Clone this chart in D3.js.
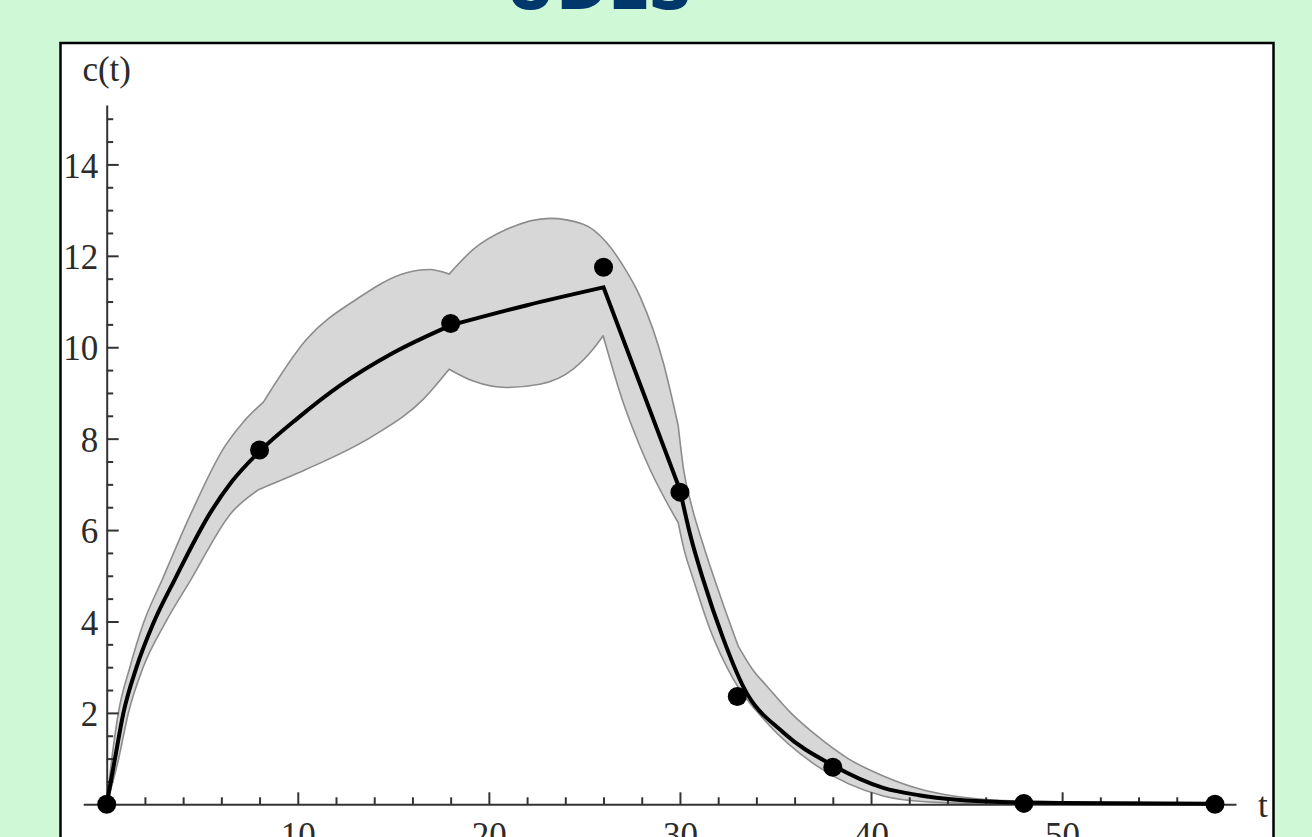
<!DOCTYPE html>
<html>
<head>
<meta charset="utf-8">
<script src="https://cdn.jsdelivr.net/npm/d3@7"></script>
<style>
  html, body { margin: 0; padding: 0; background: #cff8d7; }
  svg { display: block; }
</style>
</head>
<body>
<svg id="chart" width="1312" height="837"></svg>
<script>
// ---------- DATA ----------
const titleText = "UDLS";
const yLabel = "c(t)";
const xLabel = "t";

// observations
const obsT = [0, 8, 18, 26, 30, 33, 38, 48, 58];
const obsC = [0, 7.75, 10.52, 11.75, 6.83, 2.36, 0.81, 0.02, 0.0];

// fitted curve, piecewise (kinks at 18, 26, 30)
const fitSeg1 = [[0,0],[0.42,0.97],[0.87,1.99],[1.57,3.01],[2.44,3.96],[3.6,4.95],[5.41,6.37],[6.53,7.05],[8,7.72],[10,8.45],[12.2,9.16],[15.0,9.88],[18,10.48]];
const fitSeg2 = [[18,10.48],[22,10.92],[26,11.31]];
const fitSeg3 = [[26,11.31],[30,6.88]];
const fitSeg4 = [[30,6.88],[30.54,5.89],[31.22,4.91],[32.27,3.62],[33.32,2.57],[35.41,1.57],[37.97,0.86],[40.64,0.36],[42.5,0.2],[44.5,0.1],[46.75,0.05],[50,0.03],[58,0.01]];

// confidence band, upper edge (kinks at ~8.2, ~17.9, ~29.9, ~33)
const upSeg1 = [[0,0],[0.26,0.97],[0.61,2.0],[1.22,3.01],[1.92,3.96],[2.92,4.93],[4.43,6.38],[6.18,7.83],[7.12,8.35],[8.2,8.8]];
const upSeg2 = [[8.2,8.8],[10.45,10.17],[13.07,11.05],[15.69,11.63],[16.9,11.7],[17.92,11.6]];
const upSeg3 = [[17.92,11.6],[19.18,12.14],[20.93,12.58],[23.19,12.82],[24.94,12.69],[26.16,12.29],[27.03,11.78],[27.9,11.12],[29.13,9.66],[29.91,8.28]];
const upSeg4 = [[29.91,8.28],[30.2,7.3],[30.6,6.55],[31.2,5.7],[32.2,4.45],[33.05,3.46]];
const upSeg5 = [[33.05,3.46],[33.8,2.95],[34.54,2.59],[35.8,2.0],[37.16,1.5],[38.8,1.0],[40.64,0.62],[42.5,0.34],[44.5,0.17],[47,0.08],[50,0.04],[54,0.02],[58,0.015]];

// confidence band, lower edge (kinks at ~8, ~17.9, ~26, ~29.9)
const loSeg1 = [[0,0],[0.61,0.97],[1.13,1.99],[1.92,3.01],[3.05,3.96],[4.4,4.91],[6.53,6.38],[7.97,6.89]];
const loSeg2 = [[7.97,6.89],[10.45,7.33],[13.94,8.06],[16.56,8.86],[17.92,9.52]];
const loSeg3 = [[17.92,9.52],[19.18,9.26],[20.93,9.12],[22.67,9.19],[24.41,9.52],[25.46,9.96],[25.98,10.25]];
const loSeg4 = [[25.98,10.25],[27.03,8.79],[27.9,7.84],[28.43,7.33],[29.91,6.16]];
const loSeg5 = [[29.91,6.16],[30.2,5.6],[30.7,4.92],[31.57,3.83],[32.79,2.74],[34.54,1.79],[37.16,0.84],[40.64,0.18],[43,0.05],[47,0.01],[58,0]];

// ticks
const xMajorTicks = [10, 20, 30, 40, 50];
const xMinorTicks = [2,4,6,8,12,14,16,18,22,24,26,28,32,34,36,38,42,44,46,48,52,54,56,58];
const yMajorTicks = [2, 4, 6, 8, 10, 12, 14];
const yMinorTicks = [0.5,1,1.5,2.5,3,3.5,4.5,5,5.5,6.5,7,7.5,8.5,9,9.5,10.5,11,11.5,12.5,13,13.5,14.5,15];

// ---------- DRAW ----------
const svg = d3.select("#chart");

// panel
svg.append("rect")
  .attr("x", 60.5).attr("y", 43).attr("width", 1213).attr("height", 820)
  .attr("fill", "#ffffff").attr("stroke", "#000").attr("stroke-width", 2.5);

// title (cut off at the top)
svg.append("text")
  .attr("x", 599).attr("y", 9)
  .attr("text-anchor", "middle")
  .attr("font-family", "DejaVu Sans, sans-serif")
  .attr("font-weight", "bold")
  .attr("font-size", 66)
  .attr("textLength", 188)
  .attr("lengthAdjust", "spacingAndGlyphs")
  .attr("fill", "#01386b")
  .text(titleText);

const x = d3.scaleLinear().domain([-1.23, 59.1]).range([83.2, 1236]);
const y = d3.scaleLinear().domain([0, 15.3]).range([804.3, 105]);

const lineGen = d3.line().x(d => x(d[0])).y(d => y(d[1])).curve(d3.curveMonotoneX);

function segPath(segs) {
  let d = "";
  segs.forEach((s, i) => {
    let p = lineGen(s);
    if (i > 0) p = "L" + p.slice(1);
    d += p;
  });
  return d;
}

// band
const upper = [upSeg1, upSeg2, upSeg3, upSeg4, upSeg5];
const lower = [loSeg1, loSeg2, loSeg3, loSeg4, loSeg5];
const lowerRev = lower.slice().reverse().map(s => s.slice().reverse());
const bandD = segPath(upper) + "L" + segPath(lowerRev).slice(1) + "Z";
svg.append("path")
  .attr("d", bandD)
  .attr("fill", "#d7d7d7")
  .attr("stroke", "#8c8c8c")
  .attr("stroke-width", 1.6)
  .attr("stroke-linejoin", "round");

// axes
const axisFont = "Liberation Serif, Times New Roman, serif";
const gx = svg.append("g").attr("transform", `translate(0,${y(0)})`);
gx.call(d3.axisBottom(x).tickValues(xMinorTicks).tickSize(-7).tickSizeOuter(0).tickFormat(""));
const gx2 = svg.append("g").attr("transform", `translate(0,${y(0)})`);
gx2.call(d3.axisBottom(x).tickValues(xMajorTicks).tickSize(-12).tickSizeOuter(0).tickPadding(18).tickFormat(d3.format("d")));
gx2.select(".domain").remove();

const gy = svg.append("g").attr("transform", `translate(${x(0)},0)`);
gy.call(d3.axisLeft(y).tickValues(yMinorTicks).tickSize(-6.5).tickSizeOuter(0).tickFormat(""));
const gy2 = svg.append("g").attr("transform", `translate(${x(0)},0)`);
gy2.call(d3.axisLeft(y).tickValues(yMajorTicks).tickSize(-12).tickSizeOuter(0).tickPadding(8.5).tickFormat(d3.format("d")));
gy2.select(".domain").remove();

svg.selectAll(".domain, .tick line").attr("stroke", "#333").attr("stroke-width", 2);
svg.selectAll(".tick text")
  .attr("font-family", axisFont)
  .attr("font-size", 35)
  .attr("fill", "#2b2b2b");
gy2.selectAll(".tick text").attr("dy", "0.36em");

// axis labels
svg.append("text")
  .attr("x", x(0)).attr("y", 81)
  .attr("text-anchor", "middle")
  .attr("font-family", axisFont).attr("font-size", 35).attr("fill", "#2b2b2b")
  .text(yLabel);
svg.append("text")
  .attr("x", 1258).attr("y", 817)
  .attr("font-family", axisFont).attr("font-size", 35).attr("fill", "#2b2b2b")
  .text(xLabel);

// fitted line
svg.append("path")
  .attr("d", segPath([fitSeg1, fitSeg2, fitSeg3, fitSeg4]))
  .attr("fill", "none")
  .attr("stroke", "#000")
  .attr("stroke-width", 4)
  .attr("stroke-linejoin", "miter");

// points
svg.append("g").selectAll("circle")
  .data(obsT.map((t, i) => [t, obsC[i]]))
  .join("circle")
  .attr("cx", d => x(d[0]))
  .attr("cy", d => y(d[1]))
  .attr("r", 9.5)
  .attr("fill", "#000");
</script>
</body>
</html>
